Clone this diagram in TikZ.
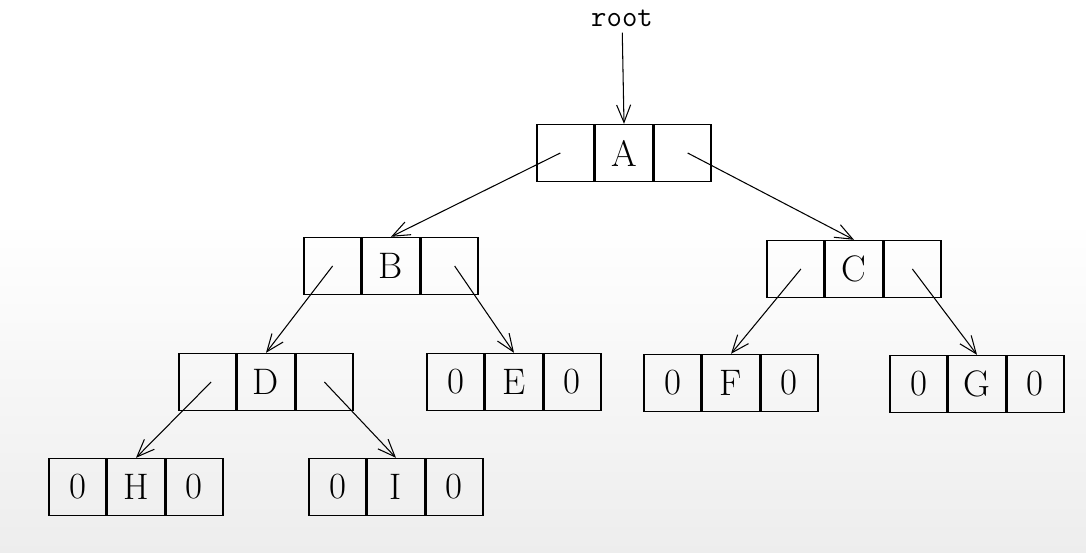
\documentclass[tikz,border=0pt]{standalone}
\usetikzlibrary{arrows.meta}
\begin{document}
\begin{tikzpicture}[x=0.02cm,y=-0.02cm,
  cell/.style={draw,thick,minimum width=1.14cm,minimum height=1.14cm,inner sep=0pt,font=\fontsize{21}{24}\selectfont},
  arr/.style={-{Straight Barb[length=10pt,width=8pt]},semithick}]
\shade[top color=white,bottom color=black!12,draw=none] (0,0) rectangle (1086,552);
\fill[white] (0,0) rectangle (1086,220);
\shade[top color=white,bottom color=white!93!black] (0,220) rectangle (1086,552);
\useasboundingbox (0,0) rectangle (1086,552);
\newcommand\tnode[6]{%
  \node[cell] (#1-m) at (#2,#3) {#5};
  \node[cell,anchor=east] (#1-l) at (#1-m.west) {#4};
  \node[cell,anchor=west] (#1-r) at (#1-m.east) {#6};}
\tnode{A}{624}{153}{}{A}{}
\tnode{B}{391}{266}{}{B}{}
\tnode{C}{854}{269}{}{C}{}
\tnode{D}{266}{382}{}{D}{}
\tnode{E}{514}{382}{0}{E}{0}
\tnode{F}{731}{383}{0}{F}{0}
\tnode{G}{977}{384}{0}{G}{0}
\tnode{H}{136}{487}{0}{H}{0}
\tnode{I}{396}{487}{0}{I}{0}
\node[font=\ttfamily\fontsize{17}{20}\selectfont] (root) at (622,18) {root};
\draw[arr] (root) -- (A-m.north);
\draw[arr] ([xshift=-3]A-l.center) -- (B-m.north);
\draw[arr] ([xshift=3]A-r.center) -- (C-m.north);
\draw[arr] (B-l.center) -- (D-m.north);
\draw[arr] ([xshift=3]B-r.center) -- (E-m.north);
\draw[arr] ([xshift=3]C-l.center) -- (F-m.north);
\draw[arr] (C-r.center) -- (G-m.north);
\draw[arr] ([xshift=2]D-l.center) -- (H-m.north);
\draw[arr] (D-r.center) -- (I-m.north);
\end{tikzpicture}
\end{document}
